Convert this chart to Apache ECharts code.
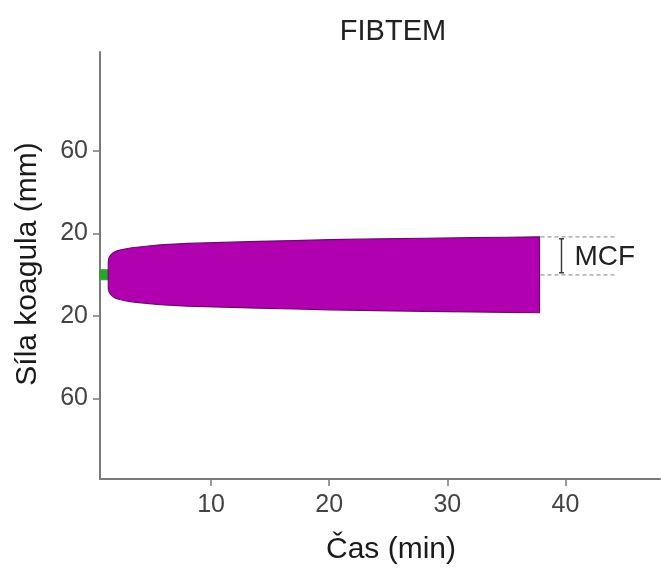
<!DOCTYPE html>
<html>
<head>
<meta charset="utf-8">
<script src="https://cdn.jsdelivr.net/npm/echarts@6/dist/echarts.min.js"></script>
<style>
  html, body { margin: 0; padding: 0; background: #ffffff; }
  #chart { width: 661px; height: 569px; }
</style>
</head>
<body>
<div id="chart"></div>
<script>
// FIBTEM trace: clot amplitude (mm) over time (min), drawn mirrored around 0.
const timeMin = [1.300, 1.301, 1.32, 1.36, 1.42, 1.5, 1.6, 1.75, 1.9, 2.1, 2.3, 2.7, 3.3, 4.3, 5.7, 8, 11, 14, 17, 20, 24, 28, 32, 35, 37.8];
const amplitudeMm = [2.4, 6.0, 7.2, 8.0, 8.8, 9.5, 10.1, 10.8, 11.3, 11.7, 12.0, 12.5, 13.1, 13.7, 14.5, 15.2, 15.7, 16.2, 16.6, 17.0, 17.4, 17.7, 18.0, 18.2, 18.4];

// Clotting time segment (before the trace opens up)
const ctTime = [0.6, 1.30];
const ctAmplitude = [2.4, 2.4];

const xTicks = [10, 20, 30, 40];
const yTicks = [-60, -20, 20, 60];

const mcfTime = timeMin[timeMin.length - 1];
const mcfValue = amplitudeMm[amplitudeMm.length - 1];

const fill = '#b000b0';
const edge = '#6e0a6e';
const green = '#2aa52a';
const font = '"Liberation Sans", Arial, sans-serif';

const chart = echarts.init(document.getElementById('chart'), null, { renderer: 'canvas' });

// Closed outline: upper edge left→right, then the mirrored lower edge right→left
function mirroredShape(times, amps) {
  const pts = [];
  times.forEach((t, i) => pts.push([t, amps[i]]));
  for (let i = times.length - 1; i >= 0; i--) pts.push([times[i], -amps[i]]);
  return pts;
}

function bandSeries(times, amps, color, border, z) {
  const pts = mirroredShape(times, amps);
  return {
    type: 'custom',
    data: pts,
    silent: true,
    z: z,
    renderItem: function (params, api) {
      if (params.dataIndex !== 0) return null;
      const poly = pts.map(p => api.coord(p));
      return {
        type: 'polygon',
        shape: { points: poly },
        style: { fill: color, stroke: border, lineWidth: 1.2 }
      };
    }
  };
}

chart.setOption({
  animation: false,
  backgroundColor: '#ffffff',
  title: {
    text: 'FIBTEM',
    left: 388,
    top: 12,
    textAlign: 'center',
    textStyle: { fontFamily: font, fontSize: 29, fontWeight: 'normal', color: '#222222' }
  },
  graphic: [
    {
      type: 'text',
      x: 28,
      y: 264,
      rotation: Math.PI / 2,
      style: {
        text: 'Síla koagula (mm)',
        font: '30px ' + font,
        fill: '#1a1a1a',
        textAlign: 'center',
        textVerticalAlign: 'middle'
      }
    },
    {
      type: 'text',
      x: 391,
      y: 550,
      style: {
        text: 'Čas (min)',
        font: '30px ' + font,
        fill: '#1a1a1a',
        textAlign: 'center',
        textVerticalAlign: 'middle'
      }
    }
  ],
  grid: { left: 100, right: 1, top: 52, bottom: 90, containLabel: false },
  xAxis: {
    type: 'value',
    min: 0.6,
    max: 48,
    splitLine: { show: false },
    axisLine: { show: true, onZero: false, lineStyle: { color: '#7a7a7a', width: 2 } },
    axisTick: { show: true, customValues: xTicks, length: 7, lineStyle: { color: '#7a7a7a', width: 1.5 } },
    axisLabel: {
      customValues: xTicks,
      margin: 14,
      fontFamily: font,
      fontSize: 25,
      color: '#444444'
    }
  },
  yAxis: {
    type: 'value',
    min: -99,
    max: 108,
    splitLine: { show: false },
    axisLine: { show: true, onZero: false, lineStyle: { color: '#7a7a7a', width: 2 } },
    axisTick: { show: true, customValues: yTicks, length: 7, lineStyle: { color: '#7a7a7a', width: 1.5 } },
    axisLabel: {
      customValues: yTicks,
      margin: 12,
      fontFamily: font,
      fontSize: 25,
      color: '#444444',
      formatter: v => String(Math.abs(v))
    }
  },
  series: [
    bandSeries(ctTime, ctAmplitude, green, green, 2),
    bandSeries(timeMin, amplitudeMm, fill, edge, 3),
    {
      type: 'custom',
      data: [[mcfTime, mcfValue]],
      silent: true,
      z: 5,
      renderItem: function (params, api) {
        const top = api.coord([api.value(0), api.value(1)]);
        const base = api.coord([api.value(0), 0]);
        const x0 = top[0] + 1;
        const x1 = top[0] + 76;
        const bx = top[0] + 22;
        const dash = { stroke: '#9a9a9a', lineWidth: 1.3, lineDash: [4, 3] };
        const br = { stroke: '#333333', lineWidth: 1.4 };
        return {
          type: 'group',
          children: [
            { type: 'line', shape: { x1: x0, y1: top[1], x2: x1, y2: top[1] }, style: dash },
            { type: 'line', shape: { x1: x0, y1: base[1], x2: x1, y2: base[1] }, style: dash },
            { type: 'line', shape: { x1: bx, y1: top[1] + 2, x2: bx, y2: base[1] - 2 }, style: br },
            { type: 'line', shape: { x1: bx - 2.5, y1: top[1] + 2, x2: bx + 2.5, y2: top[1] + 2 }, style: br },
            { type: 'line', shape: { x1: bx - 2.5, y1: base[1] - 2, x2: bx + 2.5, y2: base[1] - 2 }, style: br },
            {
              type: 'text',
              x: top[0] + 35,
              y: (top[1] + base[1]) / 2 + 1,
              style: {
                text: 'MCF',
                font: '28px ' + font,
                fill: '#222222',
                textAlign: 'left',
                textVerticalAlign: 'middle'
              }
            }
          ]
        };
      }
    }
  ]
});
</script>
</body>
</html>
